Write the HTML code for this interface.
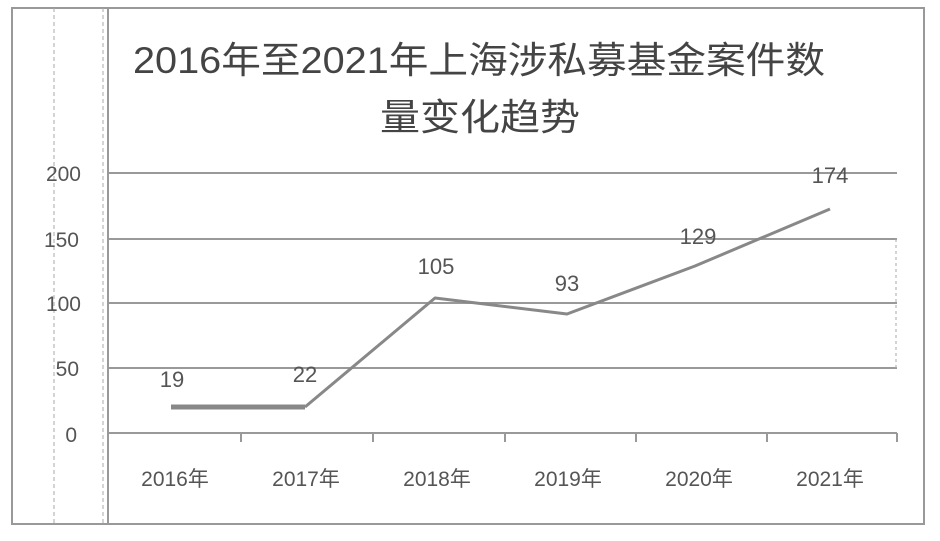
<!DOCTYPE html>
<html><head><meta charset="utf-8"><style>
body{margin:0;background:#fff;}
svg text{font-family:"Liberation Sans","Noto Sans CJK SC",sans-serif;fill:#555;}
</style></head><body>
<svg width="940" height="536" viewBox="0 0 940 536" xmlns="http://www.w3.org/2000/svg">
<rect x="12" y="8" width="912" height="516" fill="#fff" stroke="#999" stroke-width="2"/>
<line x1="54" y1="8" x2="54" y2="524" stroke="#aaa" stroke-dasharray="4,3"/>
<line x1="103" y1="8" x2="103" y2="524" stroke="#aaa" stroke-dasharray="4,3"/>
<line x1="108" y1="8" x2="108" y2="524" stroke="#999" stroke-width="2"/>
<text x="133" y="73" font-size="37" textLength="692" lengthAdjust="spacingAndGlyphs" style="fill:#444">2016年至2021年上海涉私募基金案件数</text>
<text x="380" y="130" font-size="37" textLength="200" lengthAdjust="spacingAndGlyphs" style="fill:#444">量变化趋势</text>
<g stroke="#999" stroke-width="2">
<line x1="108" y1="173" x2="897" y2="173"/>
<line x1="108" y1="239" x2="897" y2="239"/>
<line x1="108" y1="303" x2="897" y2="303"/>
<line x1="108" y1="368" x2="897" y2="368"/>
<line x1="108" y1="433" x2="897" y2="433"/>
<line x1="241" y1="433" x2="241" y2="442"/>
<line x1="373" y1="433" x2="373" y2="442"/>
<line x1="505" y1="433" x2="505" y2="442"/>
<line x1="636" y1="433" x2="636" y2="442"/>
<line x1="767" y1="433" x2="767" y2="442"/>
<line x1="897" y1="433" x2="897" y2="442"/>
</g>
<line x1="896" y1="239" x2="896" y2="368" stroke="#aaa" stroke-dasharray="3,3"/>
<g font-size="21" text-anchor="end">
<text x="81" y="181">200</text><text x="79" y="247">150</text><text x="81" y="311">100</text><text x="79" y="376">50</text><text x="77" y="442">0</text>
</g>
<g font-size="21" text-anchor="middle">
<text x="175" y="486">2016年</text><text x="306" y="486">2017年</text><text x="437" y="486">2018年</text><text x="568" y="486">2019年</text><text x="699" y="486">2020年</text><text x="830" y="486">2021年</text>
</g>
<line x1="171" y1="407" x2="305" y2="407" stroke="#888" stroke-width="5"/>
<polyline points="305,407 435,298 567,314 695,266 830,209" fill="none" stroke="#888" stroke-width="3" stroke-linejoin="round"/>
<g font-size="22" text-anchor="middle">
<text x="172" y="387">19</text><text x="305" y="382">22</text><text x="436" y="274">105</text><text x="567" y="291">93</text><text x="698" y="244">129</text><text x="830" y="183">174</text>
</g>
</svg>
</body></html>
